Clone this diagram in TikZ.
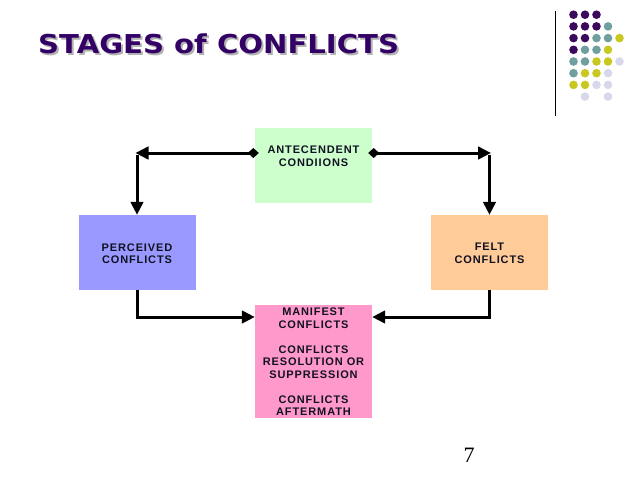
\documentclass[tikz,border=0pt]{standalone}
\usepackage{fontspec}
\setmainfont{Liberation Sans}
\newfontfamily\boxfont{Liberation Sans}[LetterSpace=8]
\newfontfamily\titlefont{DejaVu Sans}
\newfontfamily\numfont{Liberation Serif}
\usetikzlibrary{arrows.meta}
\definecolor{titlepurple}{RGB}{51,0,102}
\definecolor{agreen}{RGB}{204,255,204}
\definecolor{pblue}{RGB}{153,153,255}
\definecolor{forange}{RGB}{255,204,153}
\definecolor{mpink}{RGB}{255,153,204}
\definecolor{dc1}{RGB}{60,10,92}
\definecolor{dc2}{RGB}{111,159,159}
\definecolor{dc3}{RGB}{200,200,32}
\definecolor{dc4}{RGB}{216,216,236}
\definecolor{boxtext}{RGB}{17,17,34}
\tikzset{
  box/.style={draw=none, minimum width=117pt, inner sep=0pt},
  lbl/.style={align=center, text=boxtext, font=\boxfont\bfseries\fontsize{11}{12.5}\selectfont, inner sep=0pt},
  conn/.style={line width=3pt, -{Triangle[length=13pt,width=12.5pt]}},
  dconn/.style={line width=3pt, {Diamond[length=11pt,width=10pt]}-{Triangle[length=13pt,width=12.5pt]}},
  dot/.style={circle, inner sep=0pt, minimum size=8.6pt, draw=none},
  ttl/.style={anchor=base west, inner sep=0pt, font=\titlefont\bfseries\fontsize{25}{30}\selectfont}
}
\begin{document}
\begin{tikzpicture}[x=1pt,y=-1pt]
\useasboundingbox (0,0) rectangle (638,479);
% title
\node[ttl, text=gray!60] (tsh) at (40,55) {\scalebox{1.165}[1.04]{STAGES of CONFLICTS}};
\node[ttl, text=titlepurple] (title) at (38,53) {\scalebox{1.165}[1.04]{STAGES of CONFLICTS}};
% vertical rule
\coordinate (vt) at (555.7,11);
\coordinate (vb) at (555.7,116);
\draw[line width=1pt] (vt) -- (vb);
% dots
\foreach \r/\row in {0/{1,1,1,0,0},1/{1,1,1,2,0},2/{1,1,2,2,3},3/{1,2,2,3,0},4/{2,2,3,3,4},5/{2,3,3,4,0},6/{3,3,4,4,0},7/{0,4,0,4,0}}{
  \foreach \c [count=\i from 0] in \row {
    \ifnum\c>0
      \node[dot,fill=dc\c] (d\r\i) at ({573.5+11.5*\i},{14.7+11.7*\r}) {};
    \fi
  }
}
% boxes
\node[box, fill=agreen, minimum height=75pt] (A) at (313.5,165.5) {};
\node[lbl] (At) at (313.5,156) {ANTECENDENT\\CONDIIONS};
\node[box, fill=pblue, minimum height=75pt] (P) at (137,252.5) {};
\node[lbl] (Pt) at (137,253.5) {PERCEIVED\\CONFLICTS};
\node[box, fill=forange, minimum height=75pt] (F) at (489.5,252.5) {};
\node[lbl] (Ft) at (489.5,253.5) {FELT\\CONFLICTS};
\node[box, fill=mpink, minimum height=113pt] (M) at (313.5,361.5) {};
\node[lbl] (Mt) at (313.5,362) {MANIFEST\\CONFLICTS\\[12.5pt]CONFLICTS\\RESOLUTION OR\\SUPPRESSION\\[12.5pt]CONFLICTS\\AFTERMATH};
% connectors
\coordinate (tl) at (137,153);
\coordinate (tr) at (489.5,153);
\coordinate (bl) at (137,317);
\coordinate (br) at (489.5,317);
\draw[dconn] ([xshift=4pt]A.west |- tl) -- ([xshift=-1.5pt]tl);
\draw[dconn] ([xshift=-4pt]A.east |- tr) -- ([xshift=1.5pt]tr);
\draw[conn] ([yshift=-1.5pt]tl) -- (P.north);
\draw[conn] ([yshift=-1.5pt]tr) -- (F.north);
\draw[conn, line join=miter] (P.south) -- (bl) -- (M.west |- bl);
\draw[conn, line join=miter] (F.south) -- (br) -- (M.east |- br);
% page number
\node[inner sep=0pt, font=\numfont\fontsize{22}{26}\selectfont] (pg) at (469,455) {7};
\end{tikzpicture}
\end{document}
